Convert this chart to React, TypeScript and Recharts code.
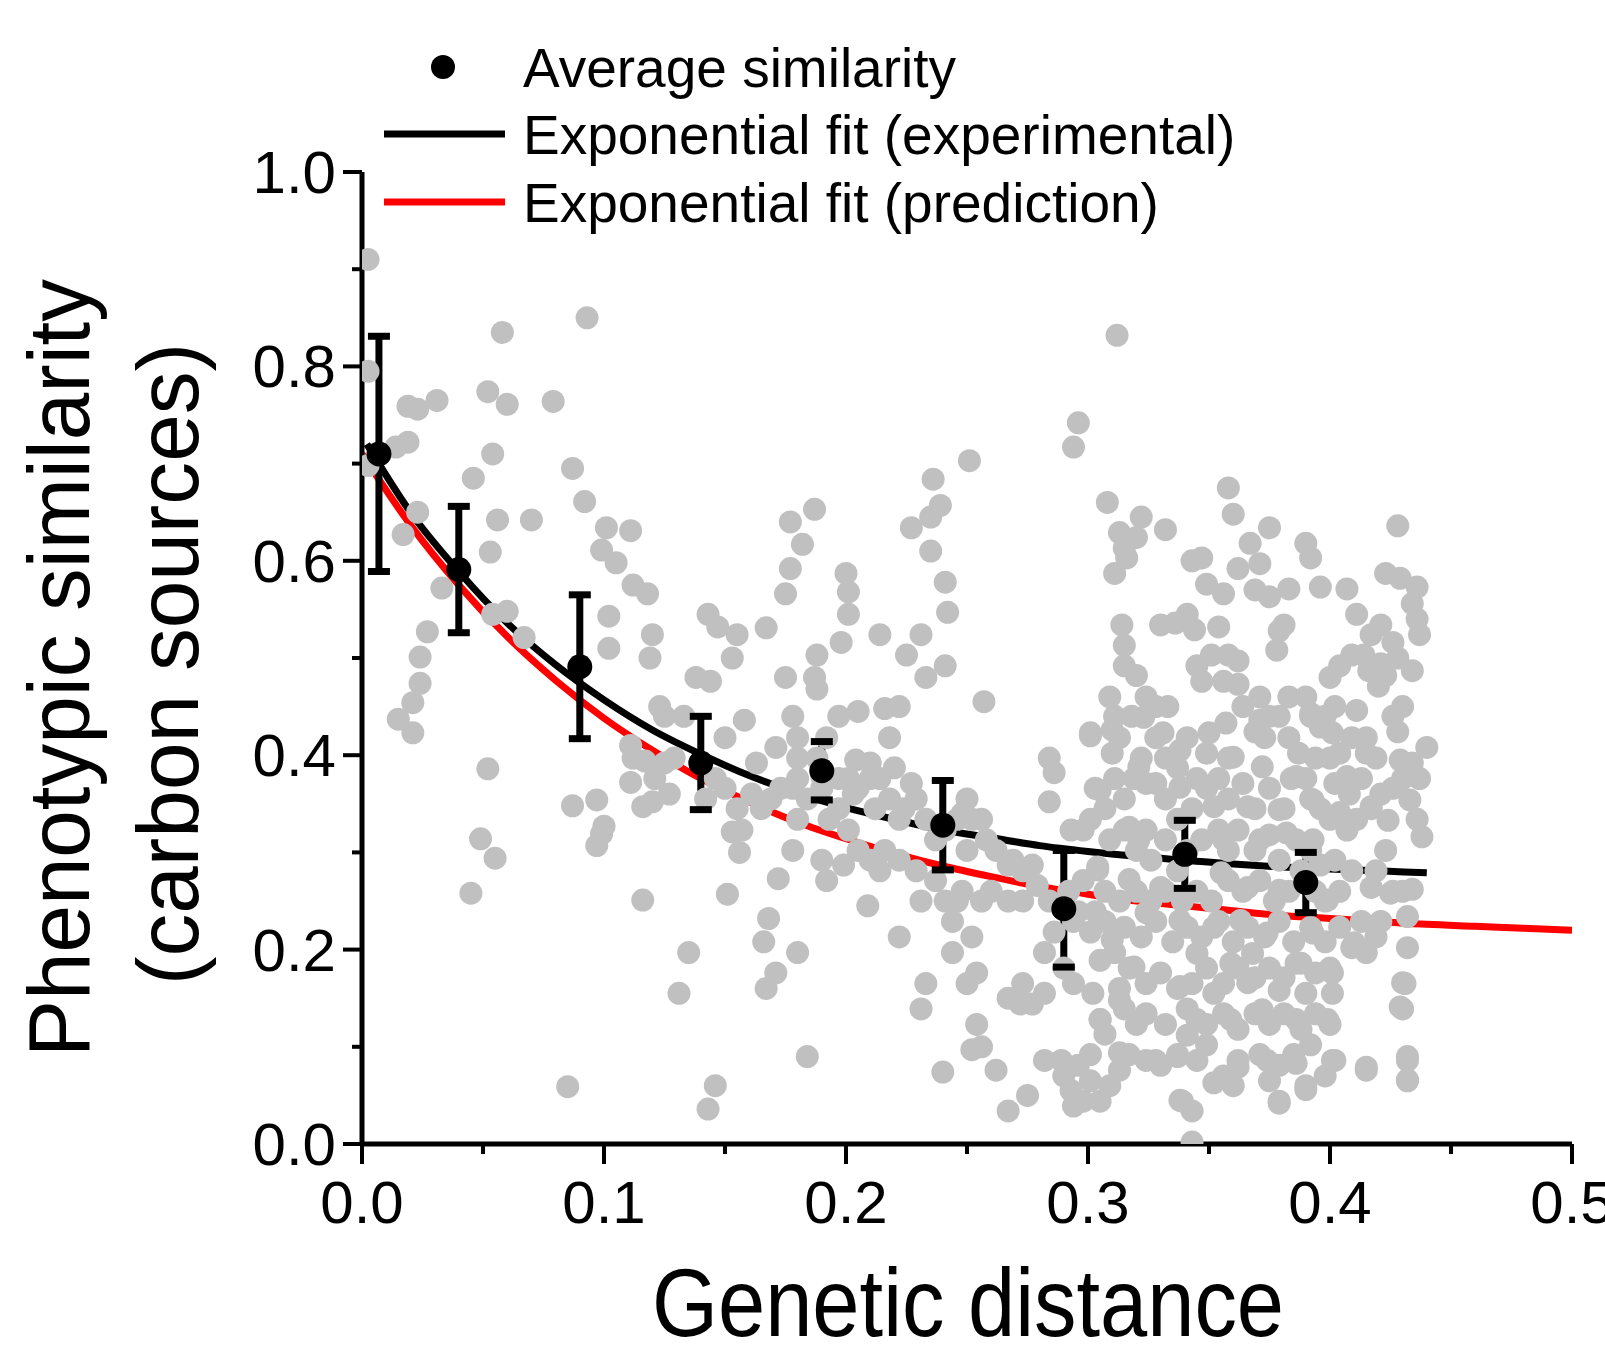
import React from "react";
import {
  ComposedChart,
  Scatter,
  Line,
  XAxis,
  YAxis,
  Legend,
} from "recharts";

// grey cloud: [genetic distance, phenotypic similarity]
const greyPoints: [number, number][] = [
  [0.0025, 0.91], [0.0025, 0.795], [0.0025, 0.698], [0.014, 0.717], [0.019, 0.722],
  [0.019, 0.759], [0.023, 0.756], [0.031, 0.765], [0.017, 0.627], [0.023, 0.65],
  [0.033, 0.572], [0.027, 0.527], [0.024, 0.501], [0.024, 0.474], [0.021, 0.454],
  [0.015, 0.437], [0.021, 0.423], [0.046, 0.685], [0.054, 0.71], [0.052, 0.774],
  [0.06, 0.761], [0.058, 0.835], [0.056, 0.642], [0.053, 0.609], [0.06, 0.548],
  [0.054, 0.545], [0.067, 0.521], [0.07, 0.642], [0.079, 0.764], [0.093, 0.85],
  [0.087, 0.695], [0.092, 0.661], [0.101, 0.634], [0.111, 0.631], [0.099, 0.611],
  [0.105, 0.598], [0.112, 0.575], [0.118, 0.566], [0.102, 0.543], [0.102, 0.51],
  [0.12, 0.524], [0.119, 0.5], [0.111, 0.41], [0.112, 0.397], [0.117, 0.394],
  [0.111, 0.372], [0.116, 0.347], [0.12, 0.352], [0.087, 0.348], [0.097, 0.354],
  [0.1, 0.327], [0.099, 0.319], [0.097, 0.307], [0.052, 0.386], [0.049, 0.314],
  [0.055, 0.294], [0.045, 0.258], [0.116, 0.251], [0.085, 0.059],
  [0.127, 0.36], [0.123, 0.45], [0.125, 0.44], [0.133, 0.44], [0.129, 0.397],
  [0.135, 0.197], [0.131, 0.155], [0.143, 0.545], [0.144, 0.476], [0.138, 0.48],
  [0.146, 0.06], [0.143, 0.036], [0.147, 0.532], [0.155, 0.524], [0.153, 0.5],
  [0.15, 0.418], [0.158, 0.436], [0.153, 0.321], [0.156, 0.3], [0.151, 0.257],
  [0.167, 0.531], [0.168, 0.232], [0.166, 0.208], [0.171, 0.176], [0.167, 0.16],
  [0.172, 0.273], [0.175, 0.48], [0.175, 0.566], [0.177, 0.592], [0.177, 0.64],
  [0.182, 0.617], [0.187, 0.653], [0.187, 0.48], [0.188, 0.468], [0.178, 0.44],
  [0.18, 0.397], [0.178, 0.366], [0.18, 0.334], [0.178, 0.302], [0.18, 0.197],
  [0.184, 0.09], [0.188, 0.503], [0.192, 0.418], [0.19, 0.378], [0.193, 0.334],
  [0.19, 0.292], [0.192, 0.271], [0.2, 0.587], [0.201, 0.568], [0.201, 0.545],
  [0.198, 0.516], [0.197, 0.44], [0.204, 0.395], [0.203, 0.36], [0.199, 0.287],
  [0.209, 0.245], [0.205, 0.445], [0.214, 0.524], [0.21, 0.376], [0.212, 0.345],
  [0.218, 0.418], [0.216, 0.448], [0.222, 0.45], [0.225, 0.503], [0.22, 0.387],
  [0.222, 0.334], [0.214, 0.281], [0.222, 0.213], [0.227, 0.371], [0.227, 0.634],
  [0.231, 0.524], [0.233, 0.48], [0.235, 0.645], [0.235, 0.61], [0.236, 0.684],
  [0.239, 0.657], [0.241, 0.578], [0.242, 0.547], [0.241, 0.492], [0.231, 0.25],
  [0.233, 0.165], [0.231, 0.139], [0.237, 0.271], [0.244, 0.229], [0.246, 0.25],
  [0.24, 0.074], [0.244, 0.197], [0.251, 0.703], [0.248, 0.34], [0.252, 0.334],
  [0.256, 0.334], [0.25, 0.302], [0.252, 0.213], [0.254, 0.176], [0.25, 0.165],
  [0.254, 0.123], [0.252, 0.097], [0.256, 0.1], [0.262, 0.076], [0.267, 0.034],
  [0.257, 0.455], [0.269, 0.292], [0.272, 0.144], [0.267, 0.15], [0.275, 0.05],
  [0.277, 0.144], [0.282, 0.155], [0.279, 0.266], [0.284, 0.352], [0.284, 0.397],
  [0.286, 0.382], [0.282, 0.086], [0.289, 0.086], [0.29, 0.07], [0.294, 0.039],
  [0.294, 0.717], [0.296, 0.742], [0.293, 0.323], [0.298, 0.323], [0.301, 0.334],
  [0.301, 0.42], [0.298, 0.271], [0.303, 0.366], [0.304, 0.282],
  [0.205, 0.366], [0.21, 0.392], [0.214, 0.376], [0.218, 0.355], [0.224, 0.345],
  [0.229, 0.355], [0.233, 0.334], [0.237, 0.313], [0.241, 0.323], [0.246, 0.334],
  [0.25, 0.355], [0.258, 0.313], [0.262, 0.302], [0.267, 0.287], [0.273, 0.281],
  [0.277, 0.287], [0.273, 0.25], [0.267, 0.25], [0.26, 0.26], [0.256, 0.25],
  [0.248, 0.26], [0.241, 0.25], [0.229, 0.281], [0.222, 0.292], [0.216, 0.302],
  [0.21, 0.292], [0.205, 0.302], [0.201, 0.323], [0.197, 0.345], [0.201, 0.376],
  [0.197, 0.376], [0.19, 0.366], [0.184, 0.355], [0.18, 0.376], [0.173, 0.366],
  [0.169, 0.355], [0.165, 0.345], [0.161, 0.36], [0.163, 0.392], [0.171, 0.408],
  [0.18, 0.418], [0.188, 0.397], [0.121, 0.376], [0.125, 0.392], [0.146, 0.376],
  [0.142, 0.355], [0.15, 0.366], [0.155, 0.345], [0.157, 0.323],
  [0.312, 0.832], [0.308, 0.66], [0.313, 0.629], [0.311, 0.587], [0.315, 0.613],
  [0.32, 0.624], [0.322, 0.645], [0.316, 0.603], [0.332, 0.632], [0.314, 0.534],
  [0.315, 0.513], [0.315, 0.492], [0.32, 0.482], [0.309, 0.46], [0.311, 0.44],
  [0.313, 0.418], [0.318, 0.44], [0.324, 0.46], [0.328, 0.45], [0.322, 0.397],
  [0.319, 0.376], [0.315, 0.355], [0.324, 0.371], [0.328, 0.418], [0.332, 0.397],
  [0.337, 0.387], [0.341, 0.418], [0.33, 0.534], [0.336, 0.536], [0.341, 0.545],
  [0.343, 0.6], [0.347, 0.603], [0.344, 0.529], [0.349, 0.576], [0.345, 0.492],
  [0.347, 0.476], [0.354, 0.532], [0.358, 0.675], [0.36, 0.648], [0.362, 0.592],
  [0.356, 0.566], [0.351, 0.503], [0.358, 0.503], [0.362, 0.497], [0.356, 0.476],
  [0.362, 0.473], [0.367, 0.618], [0.371, 0.597], [0.375, 0.634], [0.369, 0.57],
  [0.375, 0.563], [0.379, 0.528], [0.381, 0.534], [0.383, 0.571], [0.378, 0.508],
  [0.364, 0.45], [0.371, 0.46], [0.375, 0.44], [0.369, 0.424], [0.373, 0.418],
  [0.379, 0.44], [0.383, 0.46], [0.39, 0.46], [0.392, 0.44], [0.396, 0.429],
  [0.4, 0.48], [0.398, 0.44], [0.402, 0.45], [0.404, 0.492], [0.409, 0.503],
  [0.414, 0.503], [0.416, 0.487], [0.42, 0.471], [0.421, 0.494], [0.423, 0.482],
  [0.426, 0.516], [0.428, 0.5], [0.421, 0.534], [0.423, 0.587], [0.429, 0.582],
  [0.436, 0.573], [0.434, 0.556], [0.436, 0.54], [0.437, 0.524], [0.428, 0.636],
  [0.434, 0.487], [0.43, 0.45], [0.428, 0.424], [0.426, 0.44], [0.419, 0.397],
  [0.415, 0.418], [0.413, 0.376], [0.408, 0.36], [0.402, 0.371], [0.404, 0.402],
  [0.409, 0.418], [0.4, 0.397], [0.394, 0.397], [0.39, 0.376], [0.387, 0.402],
  [0.396, 0.345], [0.392, 0.355], [0.4, 0.334], [0.407, 0.323], [0.411, 0.334],
  [0.417, 0.345], [0.421, 0.36], [0.426, 0.366], [0.43, 0.376], [0.434, 0.392],
  [0.437, 0.376], [0.44, 0.408], [0.436, 0.334], [0.438, 0.316], [0.423, 0.302],
  [0.419, 0.281], [0.426, 0.26], [0.43, 0.26], [0.434, 0.262], [0.432, 0.234],
  [0.432, 0.202], [0.421, 0.229], [0.413, 0.229], [0.419, 0.213], [0.415, 0.197],
  [0.409, 0.202], [0.431, 0.165], [0.43, 0.139], [0.432, 0.086], [0.432, 0.065],
  [0.415, 0.076], [0.417, 0.524], [0.411, 0.545], [0.407, 0.571], [0.392, 0.603],
  [0.39, 0.618], [0.396, 0.573],
  [0.332, 0.355], [0.337, 0.334], [0.343, 0.345], [0.349, 0.366], [0.354, 0.376],
  [0.358, 0.355], [0.364, 0.371], [0.369, 0.345], [0.375, 0.366], [0.381, 0.345],
  [0.384, 0.376], [0.358, 0.397], [0.349, 0.402], [0.345, 0.376], [0.311, 0.376],
  [0.307, 0.345], [0.309, 0.313], [0.315, 0.323], [0.32, 0.302], [0.324, 0.323],
  [0.326, 0.292], [0.332, 0.313], [0.337, 0.281], [0.341, 0.302], [0.347, 0.313],
  [0.354, 0.323], [0.358, 0.302], [0.362, 0.323], [0.369, 0.302], [0.375, 0.318],
  [0.379, 0.292], [0.386, 0.313], [0.392, 0.302], [0.388, 0.281], [0.396, 0.287],
  [0.402, 0.292], [0.409, 0.281], [0.404, 0.26], [0.398, 0.25], [0.394, 0.26],
  [0.383, 0.26], [0.377, 0.25], [0.371, 0.271], [0.364, 0.26], [0.358, 0.271],
  [0.351, 0.25], [0.345, 0.26], [0.339, 0.25], [0.332, 0.26], [0.326, 0.25],
  [0.32, 0.26], [0.313, 0.25], [0.307, 0.26], [0.303, 0.239], [0.301, 0.218],
  [0.307, 0.229], [0.311, 0.197], [0.315, 0.223], [0.322, 0.213], [0.328, 0.229],
  [0.335, 0.208], [0.341, 0.223], [0.347, 0.213], [0.354, 0.229], [0.36, 0.208],
  [0.366, 0.223], [0.373, 0.213], [0.379, 0.229], [0.385, 0.208], [0.392, 0.223],
  [0.398, 0.208], [0.404, 0.223], [0.4, 0.181], [0.394, 0.176], [0.388, 0.186],
  [0.381, 0.171], [0.375, 0.181], [0.369, 0.171], [0.362, 0.181], [0.356, 0.165],
  [0.349, 0.181], [0.343, 0.165], [0.337, 0.16], [0.33, 0.176], [0.324, 0.165],
  [0.317, 0.181], [0.313, 0.16], [0.315, 0.139], [0.32, 0.123], [0.324, 0.134],
  [0.332, 0.123], [0.341, 0.139], [0.349, 0.123], [0.356, 0.134], [0.362, 0.118],
  [0.369, 0.134], [0.375, 0.123], [0.381, 0.134], [0.388, 0.118], [0.394, 0.134],
  [0.4, 0.123], [0.392, 0.102], [0.385, 0.092], [0.379, 0.081], [0.375, 0.065],
  [0.379, 0.044], [0.39, 0.06], [0.398, 0.07], [0.402, 0.086], [0.371, 0.092],
  [0.362, 0.086], [0.356, 0.07], [0.36, 0.06], [0.349, 0.102], [0.345, 0.086],
  [0.341, 0.112], [0.339, 0.044], [0.343, 0.034], [0.343, 0.002], [0.337, 0.092],
  [0.33, 0.081], [0.324, 0.086], [0.317, 0.092], [0.313, 0.076], [0.309, 0.06],
  [0.305, 0.044], [0.298, 0.044], [0.293, 0.055], [0.296, 0.081], [0.301, 0.092],
  [0.307, 0.113], [0.305, 0.128], [0.302, 0.155], [0.294, 0.165], [0.29, 0.181],
  [0.282, 0.197], [0.286, 0.218], [0.294, 0.229], [0.284, 0.25], [0.292, 0.26],
  [0.296, 0.239], [0.273, 0.165], [0.301, 0.065],
  [0.301, 0.423], [0.31, 0.426], [0.323, 0.439], [0.333, 0.45], [0.331, 0.423],
  [0.35, 0.423], [0.357, 0.433], [0.371, 0.436], [0.383, 0.418], [0.392, 0.443],
  [0.401, 0.423], [0.411, 0.446], [0.415, 0.402], [0.429, 0.395], [0.31, 0.402],
  [0.321, 0.388], [0.338, 0.405], [0.36, 0.398], [0.372, 0.388], [0.386, 0.378],
  [0.407, 0.378], [0.305, 0.364], [0.328, 0.371], [0.338, 0.367], [0.352, 0.347],
  [0.366, 0.347], [0.379, 0.344], [0.393, 0.354], [0.404, 0.341], [0.417, 0.347],
  [0.424, 0.333], [0.433, 0.354], [0.317, 0.326], [0.321, 0.313], [0.356, 0.313],
  [0.371, 0.313], [0.382, 0.32], [0.393, 0.313], [0.304, 0.285], [0.317, 0.272],
  [0.33, 0.264], [0.355, 0.279], [0.366, 0.264], [0.379, 0.261], [0.399, 0.251],
  [0.417, 0.264], [0.425, 0.258], [0.324, 0.238], [0.338, 0.23], [0.352, 0.223],
  [0.363, 0.23], [0.374, 0.217], [0.393, 0.217], [0.41, 0.207], [0.31, 0.21],
  [0.305, 0.189], [0.319, 0.182], [0.345, 0.196], [0.359, 0.186], [0.368, 0.196],
  [0.386, 0.186], [0.401, 0.176], [0.338, 0.162], [0.352, 0.155], [0.366, 0.166],
  [0.379, 0.158], [0.39, 0.155], [0.401, 0.155], [0.313, 0.148], [0.345, 0.128],
  [0.359, 0.128], [0.372, 0.138], [0.386, 0.128], [0.399, 0.128], [0.305, 0.128],
  [0.313, 0.094], [0.328, 0.086], [0.337, 0.09], [0.362, 0.079], [0.374, 0.086],
  [0.386, 0.083], [0.401, 0.086], [0.415, 0.079], [0.432, 0.09], [0.432, 0.066],
  [0.352, 0.063], [0.338, 0.045], [0.379, 0.042], [0.39, 0.056], [0.43, 0.166],
  [0.429, 0.141],
];

// binned averages with standard error
const avgX = [0.007, 0.04, 0.09, 0.14, 0.19, 0.24, 0.29, 0.34, 0.39];
const avgY = [0.71, 0.591, 0.491, 0.392, 0.384, 0.328, 0.242, 0.298, 0.269];
const avgErr = [0.121, 0.065, 0.074, 0.048, 0.03, 0.046, 0.06, 0.035, 0.031];

// fitted curves
const blackFitX = [0.002, 0.02, 0.04, 0.06, 0.08, 0.1, 0.12, 0.14, 0.16, 0.18, 0.2, 0.22, 0.24, 0.26, 0.28, 0.3, 0.32, 0.34, 0.36, 0.38, 0.4, 0.42, 0.44];
const blackFitY = [0.72, 0.65, 0.589, 0.536, 0.493, 0.457, 0.426, 0.401, 0.379, 0.361, 0.346, 0.334, 0.323, 0.315, 0.307, 0.301, 0.296, 0.292, 0.288, 0.285, 0.283, 0.281, 0.279];
const redFitX = [0, 0.02, 0.04, 0.06, 0.08, 0.1, 0.12, 0.14, 0.16, 0.18, 0.2, 0.22, 0.24, 0.26, 0.28, 0.3, 0.32, 0.34, 0.36, 0.38, 0.4, 0.42, 0.44, 0.46, 0.48, 0.5];
const redFitY = [0.71, 0.637, 0.575, 0.522, 0.477, 0.438, 0.405, 0.376, 0.352, 0.331, 0.314, 0.299, 0.286, 0.275, 0.265, 0.257, 0.25, 0.245, 0.24, 0.235, 0.232, 0.229, 0.226, 0.224, 0.222, 0.22];

const xTicks = [0, 0.05, 0.1, 0.15, 0.2, 0.25, 0.3, 0.35, 0.4, 0.45, 0.5];
const yTicks = [0, 0.1, 0.2, 0.3, 0.4, 0.5, 0.6, 0.7, 0.8, 0.9, 1.0];
const xMajor = [0, 0.1, 0.2, 0.3, 0.4, 0.5];
const yMajor = [0, 0.2, 0.4, 0.6, 0.8, 1.0];

const FONT = "'Liberation Sans', Arial, Helvetica, sans-serif";

const greyData = greyPoints.map(([x, y]) => ({ x, y }));
const avgData = avgX.map((x, i) => ({ x, y: avgY[i] }));
// error bar stems: lo -> hi, broken by a null so each bar is its own segment
const errStems = avgX.flatMap((x, i) => [
  { x, y: avgY[i] - avgErr[i] },
  { x, y: avgY[i] + avgErr[i] },
  { x, y: null },
]);
const errCaps = avgX.flatMap((x, i) => [
  { x, y: avgY[i] - avgErr[i] },
  { x, y: avgY[i] + avgErr[i] },
]);
const blackFit = blackFitX.map((x, i) => ({ x, y: blackFitY[i] }));
const redFit = redFitX.map((x, i) => ({ x, y: redFitY[i] }));

const isIn = (list: number[], v: number) => list.some((m) => Math.abs(m - v) < 1e-6);

const XTick = (props: any) => {
  const { x, y, payload } = props;
  const major = isIn(xMajor, payload.value);
  return (
    <g>
      <line x1={x} x2={x} y1={y} y2={y + (major ? 20 : 10)} stroke="#000" strokeWidth={4} />
      {major && (
        <text x={x} y={y + 79} textAnchor="middle" fontSize={60} fontFamily={FONT} fill="#000">
          {payload.value.toFixed(1)}
        </text>
      )}
    </g>
  );
};

const YTick = (props: any) => {
  const { x, y, payload } = props;
  const major = isIn(yMajor, payload.value);
  return (
    <g>
      <line x1={x - (major ? 19 : 10)} x2={x} y1={y} y2={y} stroke="#000" strokeWidth={4} />
      {major && (
        <text x={x - 26} y={y + 21} textAnchor="end" fontSize={60} fontFamily={FONT} fill="#000">
          {payload.value.toFixed(1)}
        </text>
      )}
    </g>
  );
};

const XTitle = () => (
  <text x={968} y={1336} textAnchor="middle" fontSize={96} fontFamily={FONT} fill="#000"
    textLength={632} lengthAdjust="spacingAndGlyphs">
    Genetic distance
  </text>
);

const YTitle = () => (
  <g fontFamily={FONT} fill="#000">
    <text transform="rotate(-90 89 668)" x={89} y={668} textAnchor="middle" fontSize={88}
      textLength={778} lengthAdjust="spacingAndGlyphs">
      Phenotypic similarity
    </text>
    <text transform="rotate(-90 198 664)" x={198} y={664} textAnchor="middle" fontSize={88}
      textLength={642} lengthAdjust="spacingAndGlyphs">
      (carbon sources)
    </text>
  </g>
);

const LegendBox = () => (
  <svg width={1300} height={240} style={{ display: "block" }}>
    <g fontFamily={FONT} fontSize={55} fill="#000">
      <circle cx={443} cy={67} r={12} fill="#000" />
      <text x={523} y={87}>Average similarity</text>
      <line x1={384} x2={505} y1={134} y2={134} stroke="#000" strokeWidth={7} />
      <text x={523} y={154}>Exponential fit (experimental)</text>
      <line x1={384} x2={505} y1={202} y2={202} stroke="#ff0000" strokeWidth={7} />
      <text x={523} y={222}>Exponential fit (prediction)</text>
    </g>
  </svg>
);

export default function App() {
  return (
    <div style={{ position: "absolute", left: 0, top: 0, width: 1605, height: 1351, background: "#fff" }}>
      <ComposedChart
        width={1605}
        height={1351}
        margin={{ top: 172, right: 33, bottom: 147, left: 262 }}
      >
        <XAxis
          type="number"
          dataKey="x"
          domain={[0, 0.5]}
          ticks={xTicks}
          interval={0}
          height={60}
          tickSize={0}
          tickMargin={0}
          tickLine={false}
          tick={<XTick />}
          axisLine={{ stroke: "#000", strokeWidth: 5 }}
          label={<XTitle />}
          allowDataOverflow
        />
        <YAxis
          type="number"
          dataKey="y"
          domain={[0, 1]}
          ticks={yTicks}
          interval={0}
          width={100}
          tickSize={0}
          tickMargin={0}
          tickLine={false}
          tick={<YTick />}
          axisLine={{ stroke: "#000", strokeWidth: 5 }}
          label={<YTitle />}
          allowDataOverflow
        />
        <Legend
          layout="vertical"
          align="center"
          verticalAlign="middle"
          content={<LegendBox />}
          wrapperStyle={{ top: 0, left: 0, width: 1300, height: 240 }}
        />
        <Scatter
          data={greyData}
          isAnimationActive={false}
          shape={(p: any) => <circle cx={p.cx} cy={p.cy} r={11.5} fill="#c0c0c0" />}
        />
        <Line
          data={redFit}
          dataKey="y"
          type="monotone"
          stroke="#ff0000"
          strokeWidth={7}
          dot={false}
          activeDot={false}
          isAnimationActive={false}
        />
        <Line
          data={blackFit}
          dataKey="y"
          type="monotone"
          stroke="#000"
          strokeWidth={7}
          dot={false}
          activeDot={false}
          isAnimationActive={false}
        />
        <Line
          data={errStems}
          dataKey="y"
          type="linear"
          connectNulls={false}
          stroke="#000"
          strokeWidth={7}
          dot={false}
          activeDot={false}
          isAnimationActive={false}
        />
        <Scatter
          data={errCaps}
          isAnimationActive={false}
          shape={(p: any) => (
            <line x1={p.cx - 11} x2={p.cx + 11} y1={p.cy} y2={p.cy} stroke="#000" strokeWidth={7} />
          )}
        />
        <Scatter
          data={avgData}
          isAnimationActive={false}
          shape={(p: any) => <circle cx={p.cx} cy={p.cy} r={12.5} fill="#000" />}
        />
      </ComposedChart>
    </div>
  );
}
